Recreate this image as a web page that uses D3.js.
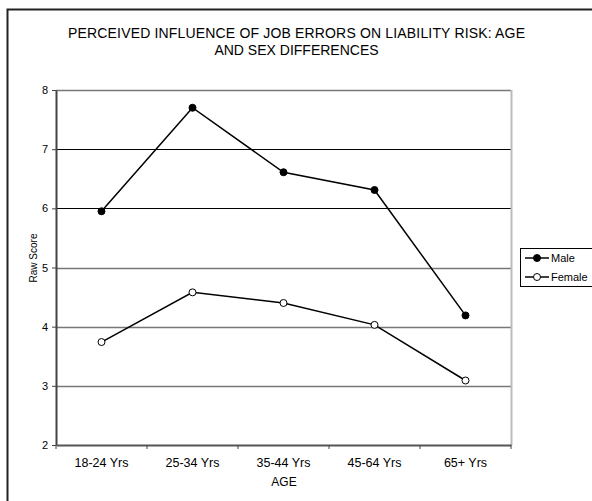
<!DOCTYPE html>
<html><head><meta charset="utf-8">
<script src="https://cdn.jsdelivr.net/npm/d3@7"></script>
<style>body{margin:0;background:#fff;} svg{display:block;font-family:"Liberation Sans",Arial,sans-serif;}</style>
</head><body><svg id="c" width="592" height="501"></svg>
<script>
const categories = ["18-24 Yrs","25-34 Yrs","35-44 Yrs","45-64 Yrs","65+ Yrs"];
const maleValues = [5.95, 7.70, 6.61, 6.31, 4.19];
const femaleValues = [3.74, 4.58, 4.40, 4.03, 3.09];
const yTicks = [2,3,4,5,6,7,8];
const seriesNames = ["Male","Female"];
const titleLines = ["PERCEIVED INFLUENCE OF JOB ERRORS ON LIABILITY RISK: AGE","AND SEX DIFFERENCES"];

const FF = "Liberation Sans, Arial, sans-serif";
const svg = d3.select("#c");
const L = 56, R = 511, T = 90, B = 445;
const x = d3.scaleBand().domain(categories).range([L, R]);
const y = d3.scaleLinear().domain([2, 8]).range([B, T]);

// outer frame
svg.append("rect").attr("x",7.5).attr("y",9.5).attr("width",600).attr("height",520)
  .attr("fill","none").attr("stroke","#222").attr("stroke-width",2);

// title
svg.append("g").selectAll("text").data(titleLines).join("text")
  .attr("x",296.5).attr("y",(d,i)=>38+i*17).attr("text-anchor","middle")
  .attr("font-size",14).attr("textLength",(d,i)=>i===0?457:null)
  .attr("fill","#000").text(d=>d);

// gridlines
svg.append("g").selectAll("line").data(yTicks.filter(d=>d>2)).join("line")
  .attr("x1",L).attr("x2",R)
  .attr("y1",d=>Math.round(y(d))+0.5).attr("y2",d=>Math.round(y(d))+0.5)
  .attr("stroke",d=>(d===6||d===7)?"#000":"#777").attr("stroke-width",d=>(d===6||d===7)?1:1.4);

// right border of plot
svg.append("line").attr("x1",R+0.5).attr("x2",R+0.5).attr("y1",T).attr("y2",B)
  .attr("stroke","#bbb").attr("stroke-width",2);

// y axis
const yAxis = d3.axisLeft(y).tickValues(yTicks).tickFormat(d3.format("d")).tickSize(4).tickSizeOuter(0).tickPadding(4);
const gy = svg.append("g").attr("transform",`translate(${L},0)`).call(yAxis);
gy.select(".domain").attr("stroke","#444").attr("stroke-width",2);
gy.selectAll(".tick line").attr("stroke","#444");
gy.selectAll("text").attr("font-size",11).attr("font-family",FF).attr("fill","#000");

// x axis
const xAxis = d3.axisBottom(x).tickSize(0).tickSizeOuter(0).tickPadding(13);
const gx = svg.append("g").attr("transform",`translate(0,${B})`).call(xAxis);
gx.select(".domain").attr("stroke","#555").attr("stroke-width",2);
gx.selectAll("text").attr("font-size",12.5).attr("font-family",FF).attr("fill","#000");
// boundary ticks
const bounds = categories.map(c=>x(c)).concat([R]);
svg.append("g").selectAll("line").data(bounds).join("line")
  .attr("x1",d=>d).attr("x2",d=>d).attr("y1",B).attr("y2",B+4)
  .attr("stroke","#444").attr("stroke-width",1);

// axis titles
svg.append("text").attr("x",284).attr("y",486).attr("text-anchor","middle")
  .attr("font-size",12).text("AGE");
svg.append("text").attr("transform","translate(37,258) rotate(-90)").attr("text-anchor","middle")
  .attr("font-size",10).text("Raw Score");

// lines
const line = d3.line().x((d,i)=>x(categories[i])+x.bandwidth()/2).y(d=>y(d));
const series = [{name:"Male",values:maleValues,fill:"#000"},{name:"Female",values:femaleValues,fill:"#fff"}];
series.forEach(s=>{
  svg.append("path").datum(s.values).attr("d",line).attr("fill","none").attr("stroke","#000").attr("stroke-width",1.5);
  svg.append("g").selectAll("circle").data(s.values).join("circle")
    .attr("cx",(d,i)=>x(categories[i])+x.bandwidth()/2).attr("cy",d=>y(d)).attr("r",3.5)
    .attr("fill",s.fill).attr("stroke","#000").attr("stroke-width",1);
});

// legend
const lg = svg.append("g");
lg.append("rect").attr("x",520.5).attr("y",248.5).attr("width",80).attr("height",38)
  .attr("fill","#fff").attr("stroke","#000").attr("stroke-width",1);
series.forEach((s,i)=>{
  const yy = 258 + i*19;
  lg.append("line").attr("x1",525).attr("x2",549).attr("y1",yy).attr("y2",yy).attr("stroke","#000").attr("stroke-width",1.5);
  lg.append("circle").attr("cx",537).attr("cy",yy).attr("r",3.5).attr("fill",s.fill).attr("stroke","#000");
  lg.append("text").attr("x",551).attr("y",yy+4).attr("font-size",11).text(seriesNames[i]);
});
</script></body></html>
